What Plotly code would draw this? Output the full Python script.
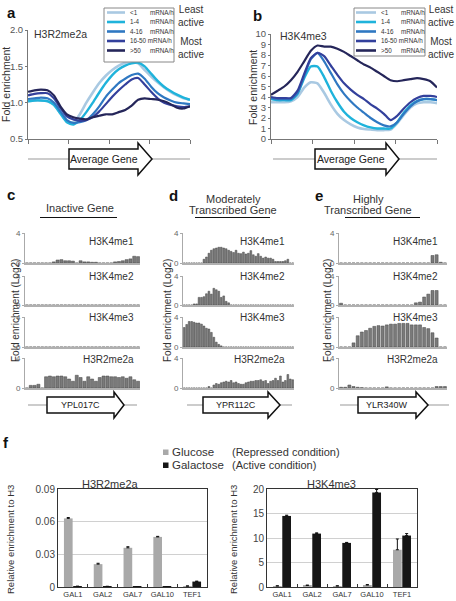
import plotly.graph_objects as go

W, H = 456, 601
def X(px): return px / W
def Y(py): return 1 - py / H

FONT = "Arial, Liberation Sans, sans-serif"

# ---------------- data ----------------
profile_pos = [0, 4, 8, 12, 16, 20, 24, 28, 32, 36, 40, 44, 48, 52, 56, 60, 64, 68, 72, 76, 80, 84, 88, 92, 96, 100]
class_labels = ["<1", "1-4", "4-16", "16-50", ">50"]
class_colors = ["#a9c9e2", "#1fb3db", "#2f78c2", "#33409c", "#25265a"]

a_lt1   = [1.02, 1.03, 1.03, 1.02, 0.97, 0.85, 0.74, 0.73, 0.84, 1.00, 1.14, 1.27, 1.37, 1.45, 1.51, 1.55, 1.56, 1.54, 1.45, 1.36, 1.28, 1.21, 1.15, 1.10, 1.06, 1.04]
a_1_4   = [1.02, 1.03, 1.03, 1.02, 0.97, 0.85, 0.73, 0.70, 0.76, 0.87, 1.00, 1.14, 1.27, 1.38, 1.46, 1.51, 1.54, 1.55, 1.50, 1.40, 1.30, 1.22, 1.16, 1.11, 1.07, 1.04]
a_4_16  = [1.05, 1.06, 1.07, 1.06, 1.00, 0.88, 0.76, 0.72, 0.73, 0.76, 0.84, 0.95, 1.08, 1.18, 1.27, 1.33, 1.38, 1.40, 1.33, 1.22, 1.13, 1.07, 1.03, 1.00, 0.99, 0.98]
a_16_50 = [1.10, 1.12, 1.13, 1.13, 1.06, 0.93, 0.81, 0.77, 0.75, 0.76, 0.80, 0.88, 0.98, 1.08, 1.17, 1.25, 1.32, 1.34, 1.25, 1.15, 1.06, 1.00, 0.97, 0.95, 0.94, 0.95]
a_gt50  = [1.15, 1.17, 1.18, 1.17, 1.10, 0.95, 0.84, 0.80, 0.78, 0.77, 0.80, 0.82, 0.84, 0.84, 0.87, 0.90, 0.96, 1.04, 1.06, 1.05, 1.04, 1.02, 0.98, 0.93, 0.92, 0.95]

b_lt1   = [3.5, 3.5, 3.5, 3.6, 4.0, 4.9, 5.4, 5.3, 4.4, 3.3, 2.4, 1.8, 1.4, 1.1, 0.95, 0.9, 0.85, 0.85, 0.9, 1.5, 2.3, 3.0, 3.4, 3.5, 3.5, 3.4]
b_1_4   = [3.8, 3.7, 3.7, 3.7, 4.3, 5.8, 6.9, 6.9, 5.9, 4.6, 3.5, 2.6, 2.0, 1.6, 1.3, 1.1, 1.0, 1.0, 1.0, 1.6, 2.5, 3.2, 3.6, 3.8, 3.8, 3.7]
b_4_16  = [3.9, 3.8, 3.8, 3.8, 4.4, 6.0, 7.6, 8.2, 7.4, 6.3, 5.2, 4.3, 3.6, 3.0, 2.5, 2.0, 1.6, 1.3, 1.2, 1.6, 2.4, 3.1, 3.6, 3.8, 3.8, 3.7]
b_16_50 = [4.0, 3.9, 3.9, 3.9, 4.6, 6.2, 7.7, 8.2, 7.9, 7.0, 6.1, 5.3, 4.7, 4.2, 3.8, 3.3, 2.9, 2.4, 1.8, 2.2, 2.9, 3.5, 3.9, 4.1, 4.1, 4.0]
b_gt50  = [4.2, 4.6, 5.0, 5.6, 6.4, 7.4, 8.4, 8.9, 8.8, 8.8, 8.6, 8.3, 7.9, 7.5, 7.1, 6.8, 6.4, 6.0, 5.6, 5.5, 5.6, 5.7, 5.8, 5.7, 5.5, 4.9]

a_ticks = [0.5, 1.0, 1.5, 2.0]
a_ticktext = ["0.5", "1.0", "1.5", "2.0"]
b_ticks = [0, 1, 2, 3, 4, 5, 6, 7, 8, 9, 10]

mark_labels = ["H3K4me1", "H3K4me2", "H3K4me3", "H3R2me2a"]

# panel c (inactive gene, YPL017C), 30 bins
c_me1 = [0, 0, 0, 0, 0, 0, 0, 0.15, 0.4, 0.45, 0.3, 0.3, 0.25, 0, 0.3, 0.15, 0.15, 0.1, 0.1, 0, 0, 0, 0, 0.15, 0.2, 0.3, 0.45, 0.55, 0.9, 0.85]
c_me2 = [0, 0, 0, 0, 0, 0, 0, 0, 0, 0, 0, 0, 0, 0, 0, 0, 0, 0, 0, 0, 0, 0, 0, 0, 0, 0, 0, 0, 0, 0]
c_me3 = [0, 0, 0, 0, 0, 0, 0, 0, 0, 0, 0, 0, 0, 0, 0, 0, 0, 0, 0, 0, 0, 0, 0, 0, 0, 0, 0, 0, 0, 0]
c_r2  = [0, 0.35, 0.35, 0.5, 0, 1.5, 1.6, 1.5, 1.6, 1.6, 1.5, 1.2, 0.9, 1.7, 1.4, 0.9, 1.5, 1.2, 0.9, 1.4, 1.6, 1.6, 1.5, 1.5, 1.4, 1.5, 1.3, 1.5, 1.1, 0.9]

# panel d (moderately transcribed, YPR112C), 45 bins
d_me1 = [0, 0, 0, 0, 0, 0, 0, 0, 0.5, 0.8, 1.3, 1.7, 1.9, 2.0, 2.1, 2.1, 2.0, 1.9, 1.7, 1.55, 1.4, 1.7, 1.3, 1.25, 1.45, 1.2, 1.3, 1.65, 1.1, 0.9, 1.25, 0.9, 0.65, 0.8, 0.65, 0.65, 0.5, 0.2, 0.2, 0.2, 0.2, 0.3, 0.5, 0, 0]
d_me2 = [0, 0, 0, 0, 0.15, 0.15, 1.05, 1.05, 1.15, 1.55, 1.9, 1.5, 2.3, 2.1, 1.9, 1.05, 1.25, 0.5, 0.3, 0, 0, 0, 0, 0, 0, 0, 0, 0, 0, 0, 0, 0, 0, 0, 0, 0, 0, 0, 0, 0, 0, 0, 0, 0, 0]
d_me3 = [2.6, 3.0, 3.4, 3.4, 3.3, 3.2, 3.2, 3.05, 2.8, 2.5, 2.4, 1.95, 1.3, 0.65, 0.35, 0.15, 0, 0, 0, 0, 0, 0, 0, 0, 0, 0, 0, 0, 0, 0, 0, 0, 0, 0, 0, 0, 0, 0, 0, 0, 0, 0, 0, 0, 0]
d_r2  = [0, 0, 0, 0, 0, 0, 0, 0, 0, 0, 0.2, 0, 0.4, 0.6, 0.5, 0.7, 0.8, 0.9, 0.8, 1.0, 0.7, 0.8, 0.6, 0.5, 0.5, 0.7, 0.8, 0.9, 0.9, 1.0, 1.0, 1.1, 0.9, 1.0, 0.6, 0.9, 1.0, 1.3, 1.0, 1.6, 0.8, 1.0, 1.8, 1.2, 1.1]

# panel e (highly transcribed, YLR340W), 26 bins
e_me1 = [0, 0, 0, 0, 0, 0, 0, 0, 0, 0, 0, 0, 0, 0, 0, 0, 0, 0, 0, 0, 0, 0, 1.0, 1.1, 0.1, 0]
e_me2 = [0.25, 0, 0, 0, 0, 0, 0, 0, 0, 0, 0, 0, 0, 0, 0, 0, 0, 0, 0.3, 0.4, 1.1, 1.5, 2.0, 2.0, 0, 0]
e_me3 = [0, 0, 0, 0.55, 1.5, 2.0, 2.2, 2.5, 2.75, 2.85, 2.8, 2.95, 3.05, 3.05, 3.15, 3.15, 3.15, 2.95, 2.95, 2.95, 2.6, 2.45, 1.9, 1.2, 0, 0]
e_r2  = [0.1, 0.1, 0.4, 0.2, 0.1, 0.05, 0, 0, 0, 0, 0, 0.15, 0, 0, 0, 0, 0, 0, 0, 0, 0, 0, 0, 0.2, 0.2, 0.2]

gal_genes = ["GAL1", "GAL2", "GAL7", "GAL10", "TEF1"]
f_r2_glu     = [0.063, 0.021, 0.036, 0.046, 0.0008]
f_r2_glu_err = [0.0008, 0.0008, 0.001, 0.0005, 0.0002]
f_r2_gal     = [0.0005, 0.0004, 0.0003, 0.0003, 0.005]
f_r2_gal_err = [0.0003, 0.0003, 0.0001, 0.0001, 0.0004]
f_k4_glu     = [0.2, 0.3, 0.2, 0.4, 7.6]
f_k4_glu_err = [0.05, 0.1, 0.05, 0.1, 2.2]
f_k4_gal     = [14.5, 10.9, 9.0, 19.3, 10.5]
f_k4_gal_err = [0.15, 0.15, 0.1, 0.6, 0.4]
f_r2_ticks = [0, 0.03, 0.06, 0.09]
f_r2_ticktext = ["0", "0.03", "0.06", "0.09"]
f_k4_ticks = [0, 5, 10, 15, 20]

# ---------------- figure ----------------
fig = go.Figure()
layout = dict(
    template="none",
    width=W, height=H, margin=dict(l=0, r=0, t=0, b=0, pad=0), autosize=False,
    paper_bgcolor="white", plot_bgcolor="rgba(0,0,0,0)",
    showlegend=False, font=dict(family=FONT, color="#333"),
    barmode="group", bargap=0.38, bargroupgap=0.06,
)
shapes, annots = [], []

def txt(x, y, s, size=10, xanchor="center", yanchor="middle", color="#333", angle=0, bold=False):
    if bold:
        s = "<b>" + s + "</b>"
    annots.append(dict(x=X(x), y=Y(y), xref="paper", yref="paper", text=s, showarrow=False,
                       xanchor=xanchor, yanchor=yanchor, textangle=angle,
                       font=dict(size=size, color=color, family=FONT)))

def pline(x0, y0, x1, y1, color="#333", width=1):
    shapes.append(dict(type="line", xref="paper", yref="paper", x0=X(x0), y0=Y(y0), x1=X(x1), y1=Y(y1),
                       line=dict(color=color, width=width)))

def block_arrow(x0, x1, x2, yc, sh, hh, label, lx0, lx1, size=10):
    pline(lx0, yc, lx1, yc, color="#999", width=1)
    pts = [(x0, yc - sh), (x1, yc - sh), (x1, yc - hh), (x2, yc), (x1, yc + hh), (x1, yc + sh), (x0, yc + sh)]
    path = "M " + " L ".join(f"{X(a):.5f},{Y(b):.5f}" for a, b in pts) + " Z"
    shapes.append(dict(type="path", xref="paper", yref="paper", path=path,
                       fillcolor="white", line=dict(color="#111", width=1.5)))
    txt((x0 + x1) / 2, yc, label, size=size, color="#222")

# ----- panels a and b -----
def line_axes(n, xdom, ydom, yrange, tickvals, ticktext, tick_size):
    xs = "" if n == 1 else str(n)
    layout["xaxis" + xs] = dict(domain=[X(xdom[0]), X(xdom[1])], range=[0, 100], anchor="y" + xs,
                                automargin=False,
                                showline=True, linecolor="#777", linewidth=1, ticks="outside", ticklen=4,
                                tickcolor="#777", tickvals=[0, 25, 50, 75, 100], showticklabels=False,
                                showgrid=False, zeroline=False)
    layout["yaxis" + xs] = dict(domain=[Y(ydom[1]), Y(ydom[0])], range=yrange, anchor="x" + xs,
                                automargin=False,
                                showline=True, linecolor="#777", linewidth=1, ticks="outside", ticklen=2,
                                tickcolor="#777", tickvals=tickvals, ticktext=ticktext,
                                tickfont=dict(size=tick_size, color="#555"), showgrid=False, zeroline=False)

line_axes(1, (28, 190), (30, 139), [0.5, 2.0], a_ticks, a_ticktext, 9.5)
line_axes(2, (271, 437), (34, 139), [0, 10], b_ticks, [str(v) for v in b_ticks], 9.5)

a_series = [a_lt1, a_1_4, a_4_16, a_16_50, a_gt50]
b_series = [b_lt1, b_1_4, b_4_16, b_16_50, b_gt50]
widths = [2.6, 2.4, 2.2, 2.2, 2.2]
for i in range(5):
    fig.add_trace(go.Scatter(x=profile_pos, y=a_series[i], mode="lines", line=dict(color=class_colors[i], width=widths[i], shape="spline", smoothing=0.6),
                             xaxis="x", yaxis="y", name=class_labels[i]))
    fig.add_trace(go.Scatter(x=profile_pos, y=b_series[i], mode="lines", line=dict(color=class_colors[i], width=widths[i], shape="spline", smoothing=0.6),
                             xaxis="x2", yaxis="y2", name=class_labels[i]))

def line_legend(bx0, bx1, by0, by1, seg0, seg1, lab_x, unit_x, side_x):
    shapes.append(dict(type="rect", xref="paper", yref="paper", x0=X(bx0), x1=X(bx1), y0=Y(by1), y1=Y(by0),
                       line=dict(color="#888", width=1), fillcolor="white"))
    ys = [12.5, 22, 31.5, 41, 50.5]
    for i, yy in enumerate(ys):
        pline(seg0, yy, seg1, yy, color=class_colors[i], width=2.6)
        if class_labels[i] == "16-50":
            txt(lab_x, yy, class_labels[i] + " mRNA/h", size=6.3, xanchor="left")
        else:
            txt(lab_x, yy, class_labels[i], size=6.3, xanchor="left")
            txt(unit_x, yy, "mRNA/h", size=6.3, xanchor="left")
    txt(side_x, 16, "Least<br>active", size=10, xanchor="left", color="#333")
    txt(side_x, 47.5, "Most<br>active", size=10, xanchor="left", color="#333")

line_legend(104, 174, 8, 62, 107, 125, 128, 148, 176)
line_legend(354, 425, 8, 56, 356, 376, 379, 399, 426)

txt(11, 13, "a", size=15, bold=True, color="#111")
txt(257, 16, "b", size=15, bold=True, color="#111")
txt(32, 34, "H3R2me2a", size=10.5, xanchor="left")
txt(278, 36, "H3K4me3", size=10.5, xanchor="left")
txt(6, 85, "Fold enrichment", size=10.5, angle=-90)
txt(253, 88, "Fold enrichment", size=10.5, angle=-90)
block_arrow(69, 138, 152, 159, 10, 16, "Average Gene", 28, 190, size=10.5)
block_arrow(315, 386, 399, 159, 10, 16, "Average Gene", 273, 437, size=10.5)

# ----- panels c, d, e -----
row_px = [(233, 263), (276, 305), (317, 347), (358, 388)]
cols = [
    dict(x=(25, 140), data=[c_me1, c_me2, c_me3, c_r2], bw=0.8, lab_r=136),
    dict(x=(183, 294), data=[d_me1, d_me2, d_me3, d_r2], bw=0.72, lab_r=287),
    dict(x=(339, 447), data=[e_me1, e_me2, e_me3, e_r2], bw=0.72, lab_r=440),
]
label_y = [242, 276, 317, 359]
k = 3
for col in cols:
    for r in range(4):
        vals = col["data"][r]
        n = len(vals)
        xs = list(range(n))
        ax = str(k)
        layout["xaxis" + ax] = dict(domain=[X(col["x"][0]), X(col["x"][1])], range=[-0.5, n - 0.5], anchor="y" + ax,
                                    automargin=False,
                                    showline=True, linecolor="#b0b0b0", linewidth=1.5, ticks="",
                                    showticklabels=False, showgrid=False, zeroline=False)
        layout["yaxis" + ax] = dict(domain=[Y(row_px[r][1]), Y(row_px[r][0])], range=[0, 4], anchor="x" + ax,
                                    automargin=False,
                                    showline=True, linecolor="#aaa", linewidth=1, ticks="outside", ticklen=2,
                                    tickcolor="#aaa", tickvals=[0, 4], ticktext=["0", "4"],
                                    tickfont=dict(size=8, color="#666"), showgrid=False, zeroline=False)
        fig.add_trace(go.Bar(x=xs, y=vals, width=col["bw"], marker=dict(color="#7a7a7a", line=dict(color="#454545", width=0.5)),
                             xaxis="x" + ax, yaxis="y" + ax, name=mark_labels[r]))
        txt(col["lab_r"], label_y[r], mark_labels[r], size=10, xanchor="right", color="#333")
        k += 1

txt(11, 195, "c", size=15, bold=True, color="#111")
txt(173, 196, "d", size=15, bold=True, color="#111")
txt(319, 196, "e", size=15, bold=True, color="#111")
txt(80, 208, "Inactive Gene", size=11)
txt(233, 199.5, "Moderately", size=11)
txt(233, 209.5, "Transcribed Gene", size=11)
txt(368, 199.5, "Highly", size=11)
txt(368, 209.5, "Transcribed Gene", size=11)
pline(40, 217.5, 117, 217.5, color="#111", width=1)
pline(195, 217.5, 270, 217.5, color="#111", width=1)
pline(345, 217.5, 420, 217.5, color="#111", width=1)
for xx in (15, 167, 327):
    txt(xx, 311, "Fold enrichment (Log2)", size=10, angle=-90)
block_arrow(47, 114, 124, 405, 8, 13, "YPL017C", 28, 137, size=9)
block_arrow(203, 268, 280, 405, 8, 13, "YPR112C", 187, 292, size=9)
block_arrow(358, 416, 428, 405, 8, 13, "YLR340W", 340, 449, size=9)

# ----- panel f -----
def bar_axes(ax, xdom, yrange, tickvals, ticktext):
    layout["xaxis" + ax] = dict(domain=[X(xdom[0]), X(xdom[1])], anchor="y" + ax, type="category",
                                automargin=False, tickangle=0,
                                showline=True, mirror=True, linecolor="#333", linewidth=1,
                                ticks="inside", ticklen=3, tickcolor="#333", tickson="boundaries",
                                tickfont=dict(size=7.5, color="#333"), showgrid=False, zeroline=False)
    layout["yaxis" + ax] = dict(domain=[Y(587), Y(489)], range=yrange, anchor="x" + ax,
                                automargin=False,
                                showline=True, mirror=True, linecolor="#333", linewidth=1,
                                ticks="", tickvals=tickvals, ticktext=ticktext,
                                tickfont=dict(size=10, color="#444"), showgrid=True, gridcolor="#d0d0d0",
                                gridwidth=1, zeroline=False)

bar_axes("15", (58, 207), [0, 0.09], f_r2_ticks, f_r2_ticktext)
bar_axes("16", (267, 417), [0, 20], f_k4_ticks, [str(v) for v in f_k4_ticks])

zeros5 = [0, 0, 0, 0, 0]
for ax, glu, glue, gal, gale in (("15", f_r2_glu, f_r2_glu_err, f_r2_gal, f_r2_gal_err),
                                 ("16", f_k4_glu, f_k4_glu_err, f_k4_gal, f_k4_gal_err)):
    fig.add_trace(go.Bar(x=gal_genes, y=glu, marker=dict(color="#a9a9a9", line=dict(width=0)), name="Glucose",
                         error_y=dict(type="data", array=glue, arrayminus=zeros5, color="#111", thickness=1, width=1.5),
                         xaxis="x" + ax, yaxis="y" + ax))
    fig.add_trace(go.Bar(x=gal_genes, y=gal, marker=dict(color="#161616", line=dict(width=0)), name="Galactose",
                         error_y=dict(type="data", array=gale, arrayminus=zeros5, color="#111", thickness=1, width=1.5),
                         xaxis="x" + ax, yaxis="y" + ax))

txt(6, 442, "f", size=15, bold=True, color="#111")
shapes.append(dict(type="rect", xref="paper", yref="paper", x0=X(163), x1=X(168.5), y0=Y(455), y1=Y(449.5),
                   fillcolor="#a9a9a9", line=dict(width=0)))
shapes.append(dict(type="rect", xref="paper", yref="paper", x0=X(163), x1=X(168.5), y0=Y(468), y1=Y(462.5),
                   fillcolor="#161616", line=dict(width=0)))
txt(170, 452, "Glucose", size=11.5, xanchor="left")
txt(170, 465, "Galactose", size=11.5, xanchor="left")
txt(230, 452, "(Repressed condition)", size=11, xanchor="left")
txt(230, 465, "(Active condition)", size=11, xanchor="left")
txt(110, 484, "H3R2me2a", size=11)
txt(331, 484, "H3K4me3", size=11)
txt(10, 540, "Relative enrichment to H3", size=9.5, angle=-90)
txt(233, 540, "Relative enrichment to H3", size=9.5, angle=-90)

layout["shapes"] = shapes
layout["annotations"] = annots
fig.update_layout(**layout)
fig.write_html("out.html", config={"displayModeBar": False},
               post_script="document.body.style.margin='0px';document.body.style.padding='0px';")
